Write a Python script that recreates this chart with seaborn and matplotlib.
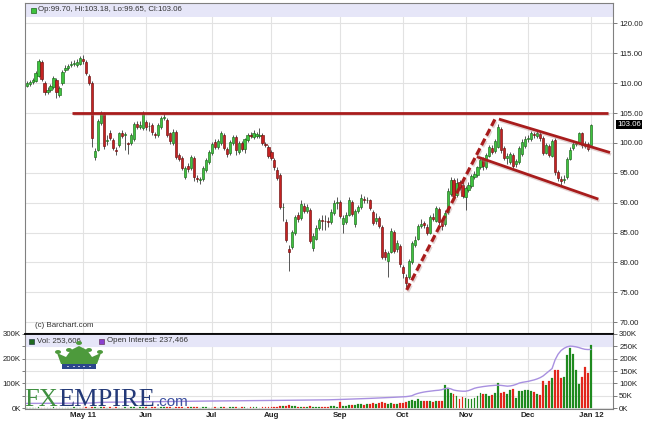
import matplotlib
matplotlib.use("Agg")
import matplotlib.pyplot as plt
import matplotlib.patheffects as pe
import matplotlib.transforms as mtransforms
from matplotlib.patches import Rectangle, Polygon, Circle
import seaborn as sns
import numpy as np
import pandas as pd

# ---- data ----
holidays = ['2011-04-22', '2011-05-30', '2011-07-04', '2011-09-05',
            '2011-11-24', '2011-12-26', '2012-01-02']
dates = pd.bdate_range('2011-04-04', '2012-01-03')
dates = dates[~dates.isin(pd.to_datetime(holidays))]

month_labels = ['May 11', 'Jun', 'Jul', 'Aug', 'Sep', 'Oct', 'Nov', 'Dec', 'Jan 12']

opens = [
    109.6, 109.9, 110.2, 110.4, 111.2, 113.6, 110.0, 108.6, 108.8, 109.4,
    110.5, 108.0, 110.0, 112.2, 112.5, 113.0, 113.3, 113.0, 113.3, 114.1,
    113.6, 111.2, 110.0, 97.7, 98.9, 103.3, 104.9, 100.3, 101.7, 100.5,
    98.9, 99.6, 101.7, 101.3, 99.9, 100.0, 100.6, 103.2, 102.7, 102.5,
    103.5, 102.8, 103.0, 101.5, 101.3, 102.7, 104.2, 103.8, 101.6, 100.0,
    101.9, 98.0, 97.5, 94.3, 96.2, 95.8, 97.5, 94.1, 93.8, 94.0,
    95.5, 96.8, 98.3, 100.2, 99.3, 100.0, 101.3, 99.0, 98.3, 100.0,
    101.0, 98.5, 100.0, 99.0, 100.5, 101.4, 101.0, 101.2, 101.2, 101.3,
    99.8, 99.3, 98.5, 97.2, 95.5, 94.6, 89.2, 86.8, 82.3, 82.6,
    85.0, 88.0, 87.4, 89.5, 88.6, 88.8, 82.5, 84.0, 85.8, 87.1,
    87.0, 87.0, 86.8, 88.3, 90.0, 90.2, 86.4, 86.8, 88.0, 90.2,
    86.5, 88.6, 89.3, 90.6, 90.4, 90.4, 88.4, 86.9, 87.4, 85.9,
    81.8, 80.3, 81.8, 85.1, 82.2, 82.8, 79.2, 77.6, 77.5, 80.1,
    83.0, 84.0, 86.1, 86.6, 86.0, 85.0, 87.6, 87.0, 89.0, 86.7,
    86.4, 88.4, 91.4, 93.8, 91.3, 93.4, 93.0, 91.0, 92.2, 92.8,
    94.3, 94.6, 96.0, 97.3, 96.0, 97.9, 99.2, 98.6, 99.4, 102.3,
    99.2, 97.5, 96.8, 98.0, 96.4, 96.8, 98.2, 99.5, 100.6, 100.7,
    101.4, 101.2, 101.5, 100.8, 98.4, 99.5, 97.9, 100.5, 95.1, 93.9,
    93.8, 94.3, 97.4, 99.1, 99.9, 100.2, 101.6, 99.7, 99.8, 99.70,
]
highs = [
    110.3, 110.5, 110.9, 112.0, 114.1, 113.9, 110.3, 109.4, 109.9, 111.2,
    110.8, 109.6, 112.2, 113.0, 113.2, 113.7, 113.9, 114.0, 114.6, 114.8,
    113.9, 111.6, 110.3, 99.2, 104.0, 105.4, 105.2, 101.4, 102.1, 100.8,
    99.3, 101.9, 102.1, 101.8, 100.2, 101.7, 103.5, 103.6, 103.6, 105.3,
    103.8, 103.5, 103.3, 101.9, 103.3, 104.5, 105.0, 104.1, 101.9, 102.3,
    102.1, 98.4, 97.8, 96.1, 96.6, 98.0, 97.8, 94.6, 94.3, 96.1,
    97.5, 98.8, 100.2, 100.6, 100.6, 102.0, 101.6, 99.4, 100.5, 101.4,
    101.3, 100.4, 100.4, 100.9, 101.7, 101.8, 102.1, 101.9, 102.5, 101.6,
    100.2, 99.6, 98.8, 97.5, 95.9, 94.9, 90.0, 87.2, 83.0, 85.4,
    87.9, 88.4, 90.5, 89.9, 89.8, 89.1, 84.9, 86.2, 87.5, 88.0,
    88.0, 87.6, 88.9, 90.4, 91.0, 90.5, 87.9, 88.4, 90.9, 90.5,
    89.0, 89.7, 91.4, 91.1, 91.0, 90.7, 88.7, 88.3, 87.8, 86.2,
    82.3, 82.0, 85.7, 85.4, 83.7, 83.1, 79.6, 78.0, 80.5, 83.6,
    84.4, 86.4, 87.2, 87.0, 86.4, 88.0, 88.3, 89.5, 89.3, 87.1,
    88.7, 92.4, 94.3, 94.1, 94.1, 93.8, 93.4, 92.8, 93.5, 94.8,
    95.3, 96.2, 97.6, 97.6, 98.4, 99.6, 99.7, 100.6, 103.2, 102.6,
    99.5, 98.3, 98.5, 98.3, 97.3, 99.5, 100.6, 101.1, 101.4, 102.0,
    101.9, 102.1, 101.8, 101.1, 100.0, 99.8, 100.7, 100.8, 95.5, 94.4,
    94.6, 97.6, 99.3, 100.2, 100.3, 101.9, 101.9, 100.3, 100.1, 103.18,
]
lows = [
    109.3, 109.6, 109.9, 110.2, 111.0, 110.4, 108.1, 108.2, 108.5, 109.1,
    107.5, 107.7, 109.7, 111.9, 112.2, 112.7, 112.9, 112.7, 113.0, 113.3,
    111.4, 109.7, 99.4, 97.2, 98.6, 103.0, 99.0, 99.6, 100.5, 98.8,
    98.0, 99.3, 100.9, 98.8, 98.2, 99.7, 100.3, 102.4, 102.4, 102.2,
    102.2, 102.0, 101.4, 100.9, 101.0, 102.4, 103.8, 101.0, 99.8, 99.7,
    97.4, 96.9, 95.4, 93.9, 95.2, 95.5, 93.7, 93.5, 93.2, 93.7,
    95.2, 96.5, 98.0, 99.0, 99.0, 99.7, 98.9, 97.6, 98.0, 99.7,
    98.0, 98.2, 98.6, 98.4, 100.2, 100.9, 100.7, 100.9, 100.8, 99.7,
    99.3, 97.5, 97.1, 95.5, 93.8, 88.9, 87.0, 83.4, 78.5, 82.2,
    84.6, 86.8, 87.1, 88.2, 88.2, 83.2, 82.0, 83.7, 85.4, 85.5,
    85.5, 86.0, 86.5, 88.0, 89.0, 87.4, 85.0, 86.5, 87.7, 87.7,
    85.9, 88.3, 89.0, 90.0, 90.0, 88.8, 86.2, 86.5, 85.8, 80.5,
    80.4, 77.6, 81.5, 81.6, 81.8, 79.3, 77.4, 75.9, 77.2, 79.8,
    82.6, 83.7, 85.7, 85.8, 84.6, 84.7, 86.9, 86.7, 86.3, 85.4,
    86.1, 88.1, 91.1, 90.8, 91.0, 92.1, 90.8, 88.8, 91.8, 92.5,
    93.9, 94.3, 95.7, 95.5, 95.7, 97.6, 98.1, 98.3, 99.1, 98.4,
    97.1, 96.5, 96.5, 95.8, 96.0, 96.5, 97.9, 99.2, 100.2, 100.4,
    100.9, 100.9, 100.4, 98.0, 98.1, 97.6, 97.6, 94.7, 93.7, 93.0,
    93.3, 94.0, 97.1, 98.8, 99.5, 99.9, 99.2, 99.1, 98.6, 99.65,
]
closes = [
    110.0, 110.2, 110.6, 111.7, 113.8, 110.7, 108.6, 108.9, 109.5, 110.9,
    108.5, 109.2, 111.9, 112.6, 112.9, 113.2, 113.3, 113.6, 114.3, 113.7,
    111.7, 110.0, 100.8, 98.7, 103.6, 105.1, 99.5, 100.5, 100.9, 99.1,
    98.7, 101.6, 101.2, 101.3, 99.8, 101.4, 103.2, 102.7, 103.0, 105.1,
    102.6, 102.9, 101.8, 101.4, 103.0, 104.2, 104.4, 101.3, 100.3, 101.9,
    97.7, 97.3, 95.8, 95.8, 95.6, 97.7, 94.3, 94.0, 93.8, 95.8,
    97.2, 98.5, 99.9, 99.4, 100.3, 101.7, 99.2, 98.1, 100.2, 101.0,
    98.8, 100.0, 99.0, 100.6, 101.3, 101.2, 101.7, 101.5, 101.2, 100.0,
    99.7, 97.8, 97.5, 95.9, 94.2, 89.2, 89.3, 83.8, 81.8, 85.1,
    87.6, 87.3, 89.8, 88.6, 89.3, 83.6, 84.5, 85.8, 87.1, 87.0,
    86.9, 86.8, 88.5, 90.0, 90.1, 87.7, 87.5, 88.0, 90.5, 88.1,
    88.6, 89.3, 90.8, 90.4, 90.5, 89.1, 86.6, 87.5, 86.1, 80.9,
    80.9, 81.5, 85.3, 82.0, 83.2, 79.7, 78.3, 76.6, 80.2, 83.2,
    83.8, 86.1, 86.5, 86.2, 85.0, 87.6, 87.3, 89.1, 86.7, 86.1,
    88.3, 92.0, 93.8, 91.2, 93.3, 92.6, 91.2, 92.4, 93.0, 94.4,
    94.8, 95.9, 97.2, 96.1, 98.0, 99.3, 98.5, 100.3, 102.7, 98.8,
    97.5, 97.9, 98.1, 96.2, 96.9, 99.1, 100.2, 100.7, 100.9, 101.6,
    101.3, 101.7, 100.8, 98.4, 99.6, 98.0, 100.3, 95.1, 94.1, 93.7,
    93.9, 97.3, 98.9, 99.8, 99.9, 101.6, 99.6, 99.5, 99.0, 103.06,
]
volume_k = [
    2, 1, 2, 1, 3, 2, 2, 1, 2, 3, 2, 1, 2, 2, 1, 2, 3, 2, 2,
    2, 3, 2, 4, 3, 2, 3, 4, 2, 3, 2, 3, 2, 2, 3, 2, 3, 4, 2, 3, 4,
    3, 2, 4, 3, 2, 3, 5, 4, 3, 2, 5, 4, 3, 2, 3, 4, 5, 3, 2, 4, 3, 2,
    2, 3, 2, 4, 3, 2, 3, 4, 3, 2, 3, 4, 2, 3, 4, 3, 2, 4, 3, 5,
    5, 6, 6, 9, 7, 10, 12, 8, 7, 5, 6, 5, 5, 8, 6, 5, 5, 4, 4, 3, 7, 8, 6,
    25, 9, 10, 14, 12, 13, 15, 18, 14, 16, 18, 20, 15, 20, 24, 22, 18, 20, 17, 16, 20,
    22, 25, 30, 32, 28, 35, 30, 28, 30, 27, 25, 30, 28, 27, 93, 82, 62, 55, 48, 35, 45,
    40, 37, 37, 42, 48, 60, 55, 55, 48, 52, 60, 103, 62, 65, 58, 72, 78, 42, 68, 70, 75,
    75, 70, 65, 55, 52, 110, 95, 110, 120, 155, 155, 120, 125, 215, 243, 218, 155, 97,
    125, 165, 140, 254,
]
open_interest_k = [
    18.6, 18.7, 18.7, 18.8, 18.8, 18.9, 18.9, 19.0, 19.0, 19.1, 19.1, 19.2,
    19.2, 19.3, 19.3, 19.4, 19.4, 19.5, 19.5, 19.6, 19.7, 19.8, 20.2, 21.5,
    22.4, 22.9, 23.2, 23.4, 23.6, 23.8, 24.0, 24.1, 24.2, 24.4, 24.5, 24.6,
    24.7, 24.9, 25.0, 25.1,
    25.2, 25.3, 25.4, 25.6, 25.7, 25.8, 26.0, 26.1, 26.3, 26.4, 26.6, 26.8,
    27.0, 27.1, 27.2, 27.4, 27.6, 27.7, 27.8, 28.0, 28.1, 28.2,
    28.3, 28.4, 28.5, 28.6, 28.7, 28.8, 28.9, 29.0, 29.1, 29.2, 29.3, 29.4,
    29.5, 29.6, 29.7, 29.8, 29.9, 30.0, 30.1, 30.2,
    30.3, 30.5, 30.7, 30.9, 31.1, 31.3, 31.5, 31.6, 31.7, 31.8, 31.9, 32.0,
    32.1, 32.2, 32.3, 32.4, 32.5, 32.7, 32.9, 33.1, 33.4, 33.7, 34.0,
    34.5, 35.0, 35.4, 35.8, 36.3, 36.8, 37.3, 37.8, 38.2, 38.6, 39.0, 39.5,
    40.0, 40.5, 41.0, 41.6, 42.2, 42.8, 43.4, 44.0, 44.6,
    45.3, 46.0, 47.5, 49.5, 55.0, 59.0, 62.0, 64.5, 66.5, 68.0, 69.5, 71.0,
    72.0, 74.0, 78.0, 80.5, 78.0, 73.0, 70.5, 69.0, 68.0,
    68.0, 70.5, 75.0, 80.0, 83.0, 85.0, 87.0, 88.5, 90.0, 91.0, 92.0, 92.5,
    91.5, 90.0, 88.5, 89.5, 92.0, 96.0, 101.0, 104.0, 106.0,
    108.0, 111.0, 114.0, 118.0, 123.0, 130.0, 140.0, 150.0, 160.0, 195.0,
    218.0, 233.0, 242.0, 248.0, 251.0, 250.0, 248.0, 245.0, 241.0, 238.0,
    237.0, 237.5,
]

# hand drawn trend lines (trading-day index, price)
resistance_x, resistance_y = [15.2, 194.8], [105.1, 105.1]
rally_x, rally_y = [127.3, 156.9], [75.4, 104.0]
channel_top_x, channel_top_y = [158.2, 195.4], [104.0, 98.4]
channel_low_x, channel_low_y = [150.8, 191.5], [97.7, 90.6]

# ---- figure ----
sns.set_style("white")
plt.rcParams['font.family'] = ['Liberation Sans', 'DejaVu Sans']

W, H = 645, 422
fig = plt.figure(figsize=(W / 100, H / 100), dpi=100, facecolor='white')


def fx(px):
    return px / W


def fy(py):
    return 1 - py / H


ax = fig.add_axes([fx(25), fy(333), fx(613) - fx(25), fy(3) - fy(333)])
vax = fig.add_axes([fx(25), fy(409), fx(613) - fx(25), fy(334) - fy(409)])

x = np.arange(len(closes))
o = np.array(opens)
c = np.array(closes)
up = c >= o

periods = dates.to_period('M')
month_pos = np.flatnonzero(np.r_[True, periods[1:] != periods[:-1]])[1:]

grid_col = '#e2e2e2'
tick_font = 5.7

# price panel
ax.add_patch(Rectangle((0, 1 - 14 / 330), 1, 14 / 330, transform=ax.transAxes,
                       facecolor='#e6e6f8', edgecolor='none', zorder=1))
ax.vlines(x, lows, highs, color='#3a3a3a', lw=0.6, zorder=2)
body_low = np.minimum(o, c)
body_h = np.maximum(np.abs(c - o), 0.12)
ax.bar(x[up], body_h[up], bottom=body_low[up], width=0.72,
       color='#3ec23e', edgecolor='#1c6a1c', linewidth=0.45, zorder=3)
ax.bar(x[~up], body_h[~up], bottom=body_low[~up], width=0.72,
       color='#c62222', edgecolor='#6c1010', linewidth=0.45, zorder=3)

line_col = '#a81c1c'
shadow = [pe.SimpleLineShadow(offset=(0.8, -1.3), shadow_color='#b08080', alpha=0.35),
          pe.Normal()]
ax.plot(resistance_x, resistance_y, color=line_col, lw=2.0,
        solid_capstyle='butt', path_effects=shadow, zorder=4)
ax.plot(channel_top_x, channel_top_y, color=line_col, lw=2.0,
        solid_capstyle='butt', path_effects=shadow, zorder=4)
ax.plot(channel_low_x, channel_low_y, color=line_col, lw=2.0,
        solid_capstyle='butt', path_effects=shadow, zorder=4)
ax.plot(rally_x, rally_y, color=line_col, lw=2.3, linestyle=(0, (2.3, 1.1)),
        path_effects=shadow, zorder=4)

ax.set_xlim(-0.54, 196.4)
ax.set_ylim(68.19, 123.43)
ax.set_xticks(month_pos)
ax.tick_params(axis='x', length=0, labelbottom=False)
ax.yaxis.tick_right()
ax.set_yticks(np.arange(70, 121, 5))
ax.set_yticklabels([f'{v:.2f}' for v in np.arange(70, 121, 5)])
ax.tick_params(axis='y', length=3, width=0.6, color='#666', labelsize=tick_font,
               pad=1.5, labelcolor='#222')
ax.grid(True, color=grid_col, lw=0.8)
ax.set_axisbelow(True)
for s in ax.spines.values():
    s.set_color('#808080')
    s.set_linewidth(0.8)

ax.plot(0.0128, 0.979, marker='s', ms=3.6, color='#3ec23e', mec='#1c6a1c', mew=0.5,
        transform=ax.transAxes, clip_on=False, zorder=5)
ax.text(0.0225, 0.979, 'Op:99.70, Hi:103.18, Lo:99.65, Cl:103.06', transform=ax.transAxes,
        va='center', ha='left', fontsize=tick_font, color='#333', zorder=5)
ax.text(0.017, 0.024, '(c) Barchart.com', transform=ax.transAxes, va='center',
        ha='left', fontsize=tick_font, color='#333')

blend = mtransforms.blended_transform_factory(ax.transAxes, ax.transData)
ax.text(1.007, closes[-1], f'{closes[-1]:.2f}', transform=blend, va='center', ha='left',
        fontsize=tick_font, color='white',
        bbox=dict(facecolor='black', edgecolor='none', pad=0.8))

# volume panel
vax.add_patch(Rectangle((0, 1 - 13 / 75), 1, 13 / 75, transform=vax.transAxes,
                        facecolor='#e6e6f8', edgecolor='none', zorder=1))
vol_colors = np.where(up, '#1f8a1f', '#e2261c')
vax.bar(x, volume_k, width=0.62, color=vol_colors, edgecolor=vol_colors,
        linewidth=0.15, zorder=2)
sns.lineplot(x=x, y=open_interest_k, ax=vax, color='#a890e0', lw=1.0, zorder=3)
vax.set_xlabel('')
vax.set_ylabel('')
vax.set_xlim(-0.54, 196.4)
vax.set_ylim(-4.05, 300)
vol_ticks = np.arange(0, 301, 50)
vax.set_yticks(vol_ticks)
vax.set_yticklabels([f'{v}K' if v % 100 == 0 else '' for v in vol_ticks])
vax.tick_params(axis='y', length=2, width=0.6, color='#666', labelsize=tick_font,
                pad=1, labelcolor='#222')
vax.set_xticks(month_pos)
vax.set_xticklabels(month_labels, fontweight='bold', fontsize=tick_font, color='#222')
vax.tick_params(axis='x', length=0, pad=2.5)
vax.grid(True, color=grid_col, lw=0.8)
vax.set_axisbelow(True)
for s in vax.spines.values():
    s.set_color('#808080')
    s.set_linewidth(0.8)
vax.spines['top'].set_color('black')
vax.spines['top'].set_linewidth(1.3)

twin = vax.twinx()
twin.set_ylim(vax.get_ylim())
twin.set_yticks(vol_ticks)
twin.set_yticklabels([f'{v}K' for v in vol_ticks])
twin.tick_params(axis='y', length=3, width=0.6, color='#666', labelsize=tick_font,
                 pad=1.5, labelcolor='#222')
for s in twin.spines.values():
    s.set_visible(False)

vax.plot(0.011, 0.913, marker='s', ms=3.6, color='#1f6a1f', mec='#123', mew=0.4,
         transform=vax.transAxes, clip_on=False, zorder=5)
vax.text(0.0204, 0.913, 'Vol: 253,606', transform=vax.transAxes, va='center',
         ha='left', fontsize=tick_font, color='#333', zorder=5)
vax.plot(0.130, 0.913, marker='s', ms=3.6, color='#8a3fd0', mec='#524', mew=0.4,
         transform=vax.transAxes, clip_on=False, zorder=5)
vax.text(0.1395, 0.913, 'Open Interest: 237,466', transform=vax.transAxes, va='center',
         ha='left', fontsize=tick_font, color='#333', zorder=5)

# FXEMPIRE watermark (crown + wordmark)
leaf = '#4d9a3c'
crown = [(61, 364), (57, 353), (66, 357), (71, 350), (79, 346), (87, 350),
         (92, 357), (101, 353), (97, 364)]
fig.add_artist(Polygon([(fx(a), fy(b)) for a, b in crown], closed=True,
                       transform=fig.transFigure, facecolor=leaf, edgecolor='none'))
for cx, cy in [(58, 352), (69, 350), (79, 343), (89, 350), (100, 352)]:
    fig.add_artist(Circle((fx(cx), fy(cy)), 3.0 / W, transform=fig.transFigure,
                          facecolor=leaf, edgecolor='none'))
fig.add_artist(Rectangle((fx(62), fy(369)), fx(34), 5 / H, transform=fig.transFigure,
                         facecolor='#2c468c', edgecolor='none'))
for cx in [68, 74, 79, 84, 90]:
    fig.add_artist(Circle((fx(cx), fy(366.5)), 0.8 / W, transform=fig.transFigure,
                          facecolor='white', edgecolor='none'))

renderer = fig.canvas.get_renderer()
base_y = fy(406)
t = fig.text(fx(24), base_y, 'FX', fontsize=19, family='Liberation Serif',
             color='#3f8f40', va='baseline', zorder=10)
bb = t.get_window_extent(renderer)
t = fig.text(bb.x1 / W, base_y, 'EMPIRE', fontsize=19, family='Liberation Serif',
             color='#243a78', va='baseline', zorder=10)
bb = t.get_window_extent(renderer)
fig.text(bb.x1 / W + 0.002, base_y, '.com', fontsize=11, family='Liberation Sans',
         color='#3d50a0', va='baseline', zorder=10)

fig.savefig('out.png', dpi=100, facecolor='white')
